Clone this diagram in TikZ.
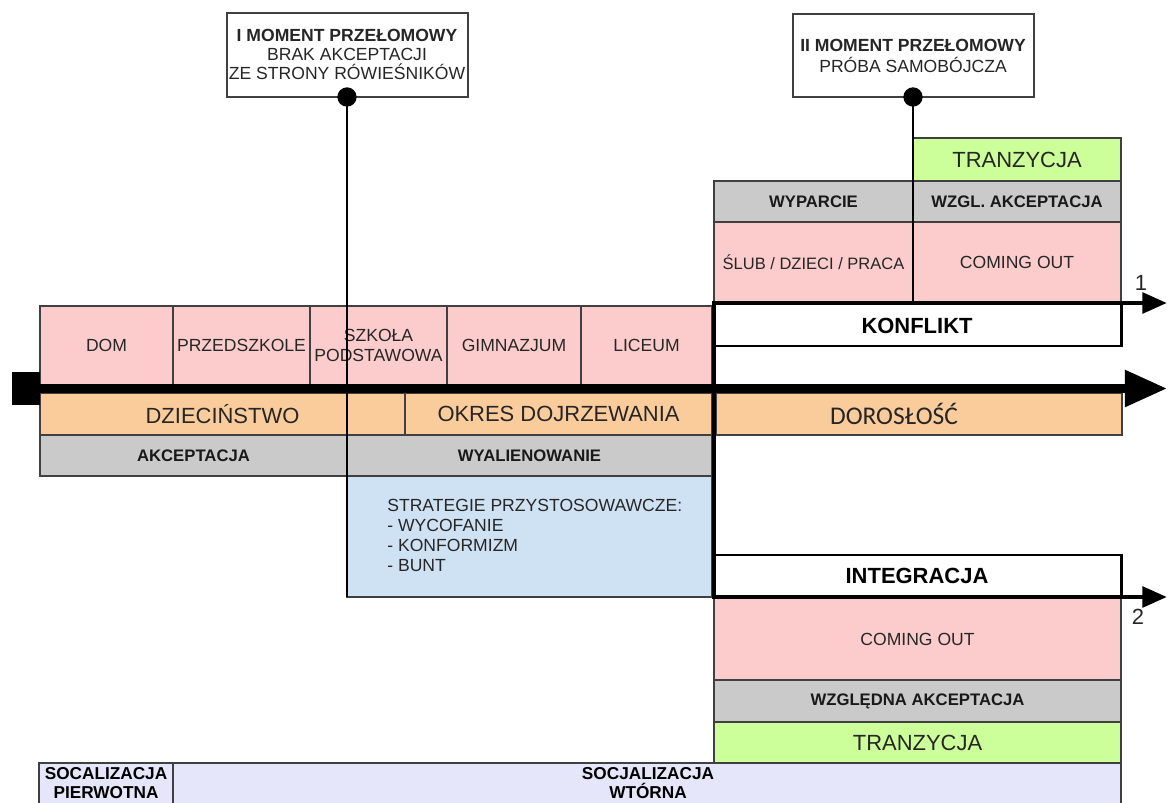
\documentclass[tikz,border=0pt]{standalone}
\usepackage{fontspec}
\usepackage{tikz}
\usetikzlibrary{arrows.meta}
\setmainfont{Liberation Sans}
\newfontfamily\calibrifont{Carlito}

\definecolor{pinkcell}{RGB}{252,204,204}
\definecolor{peachcell}{RGB}{251,204,155}
\definecolor{graycell}{RGB}{202,202,202}
\definecolor{bluecell}{RGB}{207,226,243}
\definecolor{greencell}{RGB}{204,255,153}
\definecolor{lavcell}{RGB}{230,230,250}

\tikzset{
  cell/.style={draw=black!75, line width=0.6pt},
  lbl/.style={font=\fontsize{10}{11.5}\selectfont, text=black!85, inner sep=0pt},
  big/.style={font=\fontsize{12.5}{14}\selectfont, text=black!85, inner sep=0pt},
  boldlbl/.style={font=\fontsize{9.5}{11}\selectfont\bfseries, text=black!90, inner sep=0pt},
  bigbold/.style={font=\fontsize{12.5}{14}\selectfont\bfseries, inner sep=0pt},
  branch/.style={line width=2.8pt},
  marker/.style={line width=1.1pt}
}

\begin{document}
\begin{tikzpicture}[x=0.02cm, y=-0.02cm]
		\useasboundingbox (0,0) rectangle (1169,803);
		\clip (0,0) rectangle (1169,803);
		
		% path 1 (upper)
		\draw[cell, fill=greencell] (913,138) rectangle (1121,181) node[midway, big] (tranz1) {TRANZYCJA};
		\draw[cell, fill=graycell] (714,181) rectangle (913,222) node[midway, boldlbl] (wyparcie) {WYPARCIE};
		\draw[cell, fill=graycell] (913,181) rectangle (1121,222) node[midway, boldlbl] (wzgl1) {WZGL. AKCEPTACJA};
		\draw[cell, fill=pinkcell] (714,222) rectangle (913,303) node[midway, lbl, font=\fontsize{9.4}{11}\selectfont] (slub) {ŚLUB / DZIECI / PRACA};
		\draw[cell, fill=pinkcell] (913,222) rectangle (1121,303) node[midway, lbl] (coming1) {COMING OUT};
		\draw[line width=1.7pt, fill=white] (714,303) rectangle (1121,346);
		\node[bigbold] (konflikt) at (917,326) {KONFLIKT};
		
		% stages
		\draw[cell, fill=pinkcell] (40,306) rectangle (173,385) node[midway, lbl] (dom) {DOM};
		\draw[cell, fill=pinkcell] (173,306) rectangle (310,385) node[midway, lbl] (przedszkole) {PRZEDSZKOLE};
		\draw[cell, fill=pinkcell] (310,306) rectangle (447,385) node[midway, lbl, align=center] (szkola) {SZKOŁA\\PODSTAWOWA};
		\draw[cell, fill=pinkcell] (447,306) rectangle (581,385) node[midway, lbl] (gimn) {GIMNAZJUM};
		\draw[cell, fill=pinkcell] (581,306) rectangle (712,385) node[midway, lbl] (liceum) {LICEUM};
		
		\draw[cell, fill=peachcell] (40,393) rectangle (405,435) node[midway, big] (dziec) {DZIECIŃSTWO};
		\draw[cell, fill=peachcell] (405,393) rectangle (712,435) node[midway, big] (okres) {OKRES DOJRZEWANIA};
		\draw[cell, fill=peachcell] (716,393) rectangle (1122,435);
		\node[inner sep=0pt, text=black!85, font=\calibrifont\fontsize{14.5}{16}\selectfont] (dorosl) at (894,414) {DOROSŁOŚĆ};
		
		\draw[cell, fill=graycell] (40,435) rectangle (347,476) node[midway, boldlbl] (akc) {AKCEPTACJA};
		\draw[cell, fill=graycell] (347,435) rectangle (712,476) node[midway, boldlbl] (wyal) {WYALIENOWANIE};
		\draw[cell, fill=bluecell] (347,476) rectangle (712,597);
		\node[lbl, align=left, anchor=north west, font=\fontsize{10}{11.4}\selectfont] (strat) at (387,499)
		{STRATEGIE PRZYSTOSOWAWCZE:\\- WYCOFANIE\\- KONFORMIZM\\- BUNT};
		
		% path 2 (lower)
		\draw[line width=1.7pt, fill=white] (714,555) rectangle (1121,597);
		\node[bigbold] (integr) at (917,576) {INTEGRACJA};
		\draw[cell, fill=pinkcell] (714,598) rectangle (1121,680) node[midway, lbl] (coming2) {COMING OUT};
		\draw[cell, fill=graycell] (714,680) rectangle (1121,722) node[midway, boldlbl] (wzgl2) {WZGLĘDNA AKCEPTACJA};
		\draw[cell, fill=greencell] (714,722) rectangle (1121,763) node[midway, big] (tranz2) {TRANZYCJA};
		
		% socialization
		\draw[cell, line width=1pt, fill=lavcell] (39,763) rectangle (173,810);
		\draw[cell, line width=1pt, fill=lavcell] (173,763) rectangle (1121,810);
		\node[inner sep=0pt, align=center, font=\fontsize{9.8}{11.3}\selectfont\bfseries] (prim) at (106,783) {SOCALIZACJA\\PIERWOTNA};
		\node[inner sep=0pt, align=center, font=\fontsize{9.8}{11.3}\selectfont\bfseries] (sec) at (648,783) {SOCJALIZACJA\\WTÓRNA};
		
		% turning points
		\coordinate (M1) at (347,97);
		\coordinate (M1end) at (347,597);
		\coordinate (M2) at (913,97);
		\coordinate (M2end) at (913,303);
		\draw[marker] (M1) -- (M1end);
		\draw[marker] (M2) -- (M2end);
		
		% time axis
		\coordinate (start) at (40,388.5);
		\coordinate (tip) at (1167,388.5);
		\fill (12,372) rectangle (40,405);
		\draw[line width=4.8pt, -{Triangle[length=24pt, width=20pt]}] (start) -- (tip);
		
		\coordinate (fork) at (714,303);
		\coordinate (join) at (714,597);
		\coordinate (tip1) at (1167,303);
		\coordinate (tip2) at (1167,597);
		\draw[branch] (fork) -- (join);
		\draw[branch, line cap=rect, -{Triangle[length=14pt, width=11.5pt]}] (fork) -- (tip1);
		\draw[branch, line cap=rect, -{Triangle[length=14pt, width=11.5pt]}] (join) -- (tip2);
		\node[big] (one) at (1141,283) {1};
		\node[big] (two) at (1138,617) {2};
		
		\draw[cell, fill=white] (227,13) rectangle (468,97);
		\node[lbl, align=center, font=\fontsize{10}{10.8}\selectfont] (mom1) at (347,54)
		{\textbf{I MOMENT PRZEŁOMOWY}\\BRAK AKCEPTACJI\\ZE STRONY RÓWIEŚNIKÓW};
		\draw[cell, fill=white] (793,14) rectangle (1034,97);
		\node[lbl, align=center, font=\fontsize{10}{11.5}\selectfont] (mom2) at (913,56)
		{\textbf{II MOMENT PRZEŁOMOWY}\\PRÓBA SAMOBÓJCZA};
		\fill (M1) circle (5.5pt);
		\fill (M2) circle (5.5pt);
\end{tikzpicture}
\end{document}
